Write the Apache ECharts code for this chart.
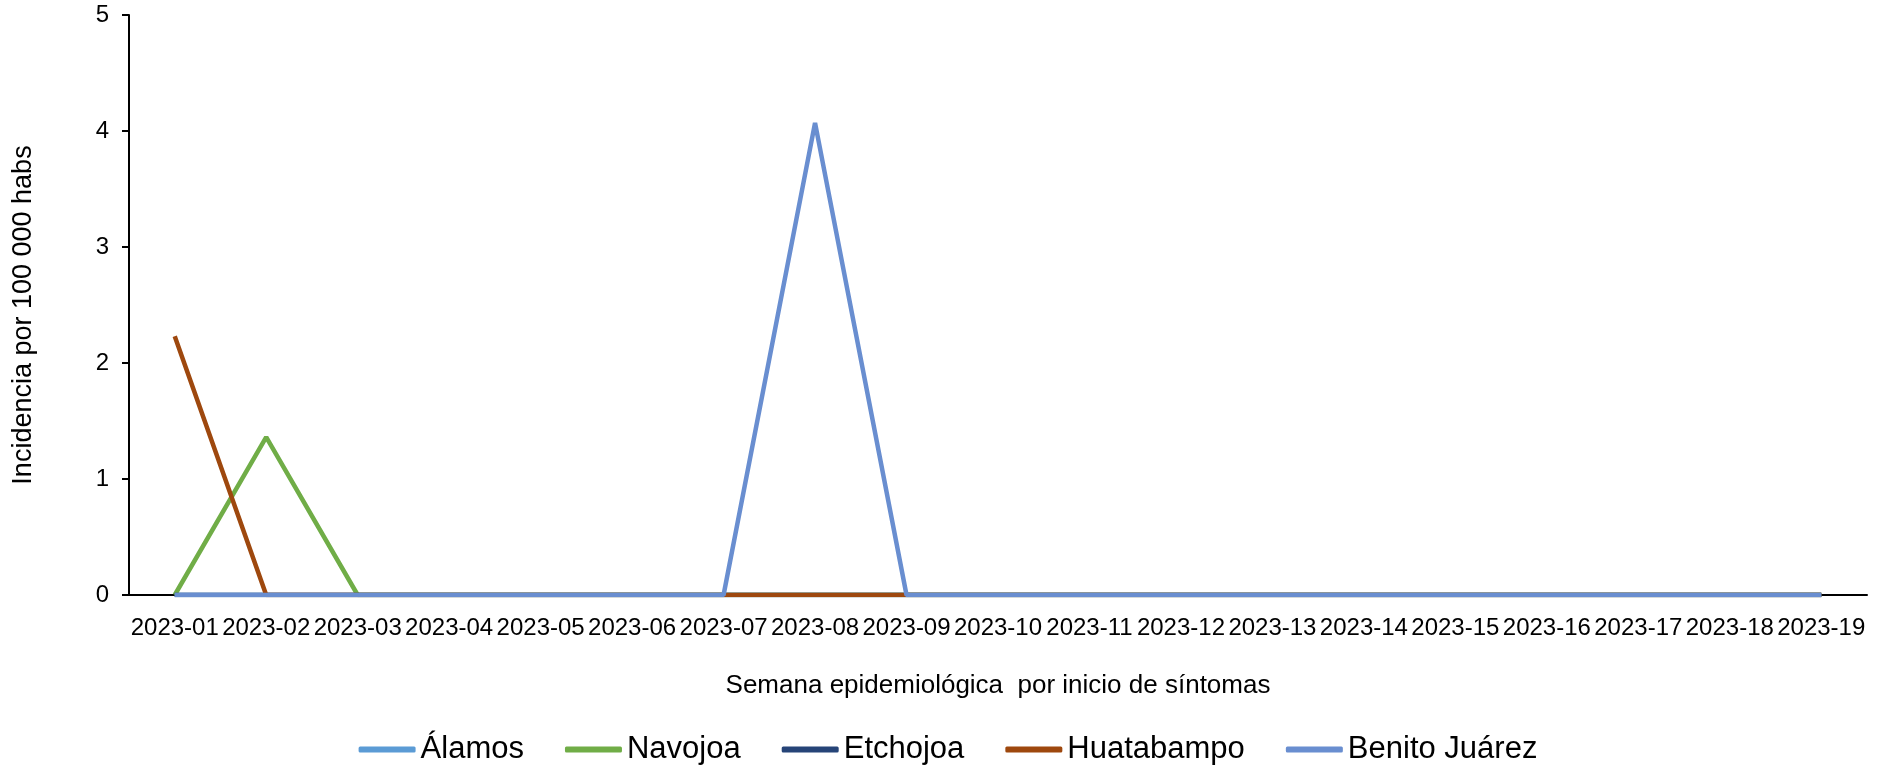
<!DOCTYPE html>
<html>
<head>
<meta charset="utf-8">
<script src="https://cdn.jsdelivr.net/npm/echarts@6/dist/echarts.min.js"></script>
<style>
  html, body { margin: 0; padding: 0; background: #fff; }
  #chart { width: 1896px; height: 765px; }
</style>
</head>
<body>
<div id="chart"></div>
<script>
const weeks = ['2023-01', '2023-02', '2023-03', '2023-04', '2023-05', '2023-06', '2023-07', '2023-08', '2023-09', '2023-10',
  '2023-11', '2023-12', '2023-13', '2023-14', '2023-15', '2023-16', '2023-17', '2023-18', '2023-19']
const alamos = [0, 0, 0, 0, 0, 0, 0, 0, 0, 0, 0, 0, 0, 0, 0, 0, 0, 0, 0]
const navojoa = [0, 1.36, 0, 0, 0, 0, 0, 0, 0, 0, 0, 0, 0, 0, 0, 0, 0, 0, 0]
const etchojoa = [0, 0, 0, 0, 0, 0, 0, 0, 0, 0, 0, 0, 0, 0, 0, 0, 0, 0, 0]
const huatabampo = [2.23, 0, 0, 0, 0, 0, 0, 0, 0, 0, 0, 0, 0, 0, 0, 0, 0, 0, 0]
const benitoJuarez = [0, 0, 0, 0, 0, 0, 0, 4.07, 0, 0, 0, 0, 0, 0, 0, 0, 0, 0, 0]

const font = 'Liberation Sans, Arial, sans-serif'

function line(name, color, data) {
  return {
    name: name,
    type: 'line',
    data: data,
    symbol: 'none',
    lineStyle: { color: color, width: 4.5 },
    itemStyle: { color: color }
  }
}

const chart = echarts.init(document.getElementById('chart'))
chart.setOption({
  animation: false,
  textStyle: { fontFamily: font },
  grid: { left: 129, right: 29, top: 15, bottom: 170 },
  legend: {
    top: 729,
    left: 'center',
    icon: 'roundRect',
    itemWidth: 57,
    itemHeight: 6,
    itemGap: 41,
    textStyle: { fontSize: 31, color: '#000', fontFamily: font },
    data: ['Álamos', 'Navojoa', 'Etchojoa', 'Huatabampo', 'Benito Juárez']
  },
  xAxis: {
    type: 'category',
    data: weeks,
    boundaryGap: true,
    name: 'Semana epidemiológica  por inicio de síntomas',
    nameLocation: 'middle',
    nameGap: 78,
    nameTextStyle: { fontSize: 26, color: '#000', fontFamily: font },
    axisLine: { lineStyle: { color: '#000', width: 2 } },
    axisTick: { alignWithLabel: true, length: 7, lineStyle: { color: '#000', width: 2 } },
    axisLabel: { fontSize: 24, color: '#000', margin: 21, interval: 0, fontFamily: font },
    splitLine: { show: false }
  },
  yAxis: {
    type: 'value',
    min: 0,
    max: 5,
    interval: 1,
    name: 'Incidencia por 100 000 habs',
    nameLocation: 'middle',
    nameGap: 92,
    nameTextStyle: { fontSize: 27, color: '#000', fontFamily: font, padding: [0, 20, 0, 0] },
    axisLine: { show: true, lineStyle: { color: '#000', width: 2 } },
    axisTick: { show: true, length: 7, lineStyle: { color: '#000', width: 2 } },
    axisLabel: { fontSize: 24, color: '#000', margin: 20, fontFamily: font },
    splitLine: { show: false }
  },
  series: [
    line('Álamos', '#5B9BD5', alamos),
    line('Navojoa', '#70AD47', navojoa),
    line('Etchojoa', '#264478', etchojoa),
    line('Huatabampo', '#9E480E', huatabampo),
    line('Benito Juárez', '#698ED0', benitoJuarez)
  ]
})
</script>
</body>
</html>
